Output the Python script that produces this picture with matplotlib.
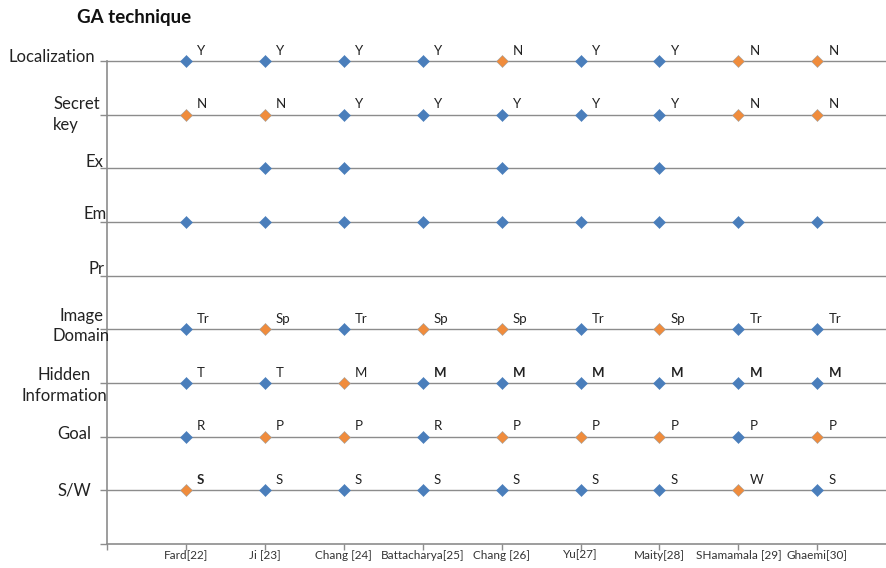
import matplotlib
matplotlib.use("Agg")
import matplotlib.pyplot as plt
from matplotlib.transforms import blended_transform_factory

plt.rcParams["font.family"] = ["Lato", "DejaVu Sans"]

BLUE, ORANGE, GRID = "#4a7ebb", "#f08c3c", "#8c8c8c"

papers = ["Fard[22]", "Ji [23]", "Chang [24]", "Battacharya[25]", "Chang [26]",
          "Yu[27]", "Maity[28]", "SHamamala [29]", "Ghaemi[30]"]

# per-paper label ('' = point without label, None = no point) and colour (b/o) for each row
localization = ["Y", "Y", "Y", "Y", "N", "Y", "Y", "N", "N"]
localization_c = "bbbbobboo"
secret_key = ["N", "N", "Y", "Y", "Y", "Y", "Y", "N", "N"]
secret_key_c = "oobbbbboo"
ex = [None, "", "", None, "", None, "", None, None]
ex_c = "bbbbbbbbb"
em = ["", "", "", "", "", "", "", "", ""]
em_c = "bbbbbbbbb"
pr = [None] * 9
pr_c = "bbbbbbbbb"
image_domain = ["Tr", "Sp", "Tr", "Sp", "Sp", "Tr", "Sp", "Tr", "Tr"]
image_domain_c = "boboobobb"
hidden_info = ["T", "T", "M", "M", "M", "M", "M", "M", "M"]
hidden_info_c = "bbobbbbbb"
hidden_bold = [False, False, False, True, True, True, True, True, True]
goal = ["R", "P", "P", "R", "P", "P", "P", "P", "P"]
goal_c = "boobooobo"
sw = ["S", "S", "S", "S", "S", "S", "S", "W", "S"]
sw_c = "obbbbbbob"
sw_bold = [True] + [False] * 8

rows = [
    (9, localization, localization_c, None),
    (8, secret_key, secret_key_c, None),
    (7, ex, ex_c, None),
    (6, em, em_c, None),
    (5, pr, pr_c, None),
    (4, image_domain, image_domain_c, None),
    (3, hidden_info, hidden_info_c, hidden_bold),
    (2, goal, goal_c, None),
    (1, sw, sw_c, sw_bold),
]

# y-axis row captions: (text, y level, x in axes coords, vertical offset, line alignment)
row_names = [
    ("Localization", 9, -0.015, 0.08, "right"),
    ("Secret\nkey", 8, -0.009, 0.0, "left"),
    ("Ex", 7, -0.005, 0.12, "right"),
    ("Em", 6, 0.0, 0.14, "right"),
    ("Pr", 5, -0.003, 0.12, "right"),
    ("Image\nDomain", 4, 0.004, 0.06, "center"),
    ("Hidden\nInformation", 3, 0.0, -0.05, "center"),
    ("Goal", 2, -0.02, 0.05, "right"),
    ("S/W", 1, -0.02, 0.0, "right"),
]

fig = plt.figure(figsize=(8.86, 5.68), dpi=100)
ax = fig.add_axes([107 / 886, 24 / 568, 1 - 107 / 886, (544 - 61) / 568])
ax.set_xlim(0, 9.87)
ax.set_ylim(0, 9)

for y in range(1, 10):
    ax.axhline(y, color=GRID, lw=1.0, zorder=1, clip_on=False)

for y, labels, cols, bold in rows:
    for i, lab in enumerate(labels):
        if lab is None:
            continue
        x = i + 1
        c = BLUE if cols[i] == "b" else ORANGE
        ax.plot([x], [y], "D", ms=6.5, color=c, mec="#a0a0a0" if c == ORANGE else c,
                mew=0.4, zorder=3, clip_on=False)
        if lab:
            fw = "bold" if bold and bold[i] else "normal"
            ax.annotate(lab, (x, y), xytext=(8, 3), textcoords="offset points",
                        fontsize=9.5, fontweight=fw, color="#222222", va="bottom")

trans = blended_transform_factory(ax.transAxes, ax.transData)
for txt, y, xa, dy, ma in row_names:
    ax.text(xa, y + dy, txt, transform=trans, ha="right", va="center", fontsize=12,
            color="#222222", linespacing=1.35, multialignment=ma)

ax.set_xticks(range(0, 10))
ax.set_xticklabels([""] + papers, fontsize=8.5, color="#333333")
ax.set_yticks(range(0, 10))
ax.set_yticklabels([])
ax.tick_params(axis="both", color=GRID, length=5, width=1)
ax.tick_params(axis="x", length=4, pad=0)
for s in ("top", "right"):
    ax.spines[s].set_visible(False)
for s in ("left", "bottom"):
    ax.spines[s].set_color(GRID)
    ax.spines[s].set_linewidth(1.2)

fig.text(134 / 886, 1 - 18 / 568, "GA technique", ha="center", va="center",
         fontsize=13.5, fontweight="bold", color="#111111")

fig.savefig("out.png", dpi=100)
